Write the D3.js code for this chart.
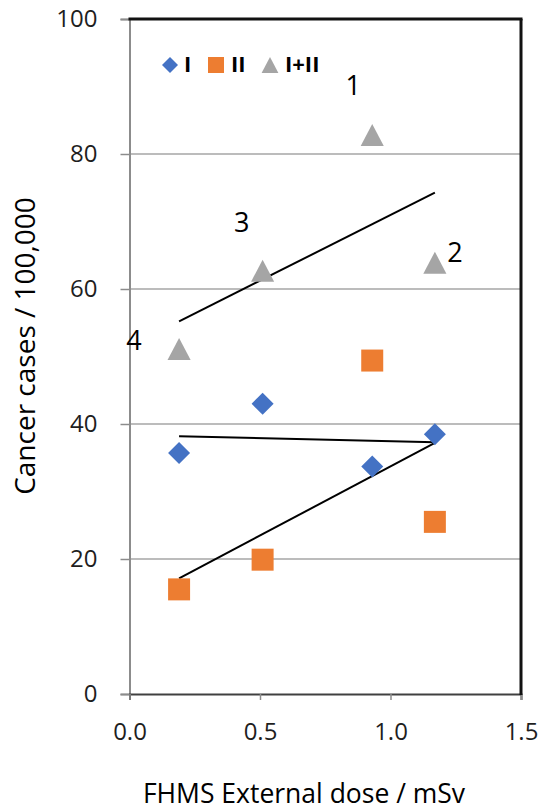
<!DOCTYPE html>
<html>
<head>
<meta charset="utf-8">
<script src="https://cdn.jsdelivr.net/npm/d3@7"></script>
<style>
  html, body { margin: 0; padding: 0; background: #fff; }
  svg { display: block; }
  text { font-family: "Open Sans", "DejaVu Sans", sans-serif; }
</style>
</head>
<body>
<svg id="chart" width="539" height="810"></svg>
<script>
// ---- data ----
const seriesNames = ["I", "II", "I+II"];
const doses = [0.19, 0.51, 0.93, 1.17];
const seriesI = [35.7, 43.0, 33.7, 38.5];
const seriesII = [15.5, 19.9, 49.4, 25.5];
const seriesSum = [51.1, 62.7, 82.8, 63.9];
const pointLabels = ["4", "3", "1", "2"];   // labels of the I+II points, in dose order
const xTicks = [0.0, 0.5, 1.0, 1.5];
const yTicks = [0, 20, 40, 60, 80, 100];
const xTitle = "FHMS External dose / mSv";
const yTitle = "Cancer cases / 100,000";

// ---- layout ----
const svg = d3.select("#chart");
const pLeft = 129.5, pRight = 521, pTop = 19, pBottom = 694;
const x = d3.scaleLinear().domain([0, 1.5]).range([pLeft, pRight]);
const y = d3.scaleLinear().domain([0, 100]).range([pBottom, pTop]);

const colors = { "I": "#4472C4", "II": "#ED7D31", "I+II": "#A5A5A5" };

// gridlines
svg.append("g").selectAll("line").data(yTicks.filter(d => d > 0 && d < 100)).join("line")
  .attr("x1", pLeft).attr("x2", pRight)
  .attr("y1", d => y(d)).attr("y2", d => y(d))
  .attr("stroke", "#a6a6a6").attr("stroke-width", 1.5);

// y axis
const yAxis = svg.append("g").attr("transform", `translate(${pLeft},0)`)
  .call(d3.axisLeft(y).tickValues(yTicks).tickFormat(d3.format("d")).tickSize(9).tickPadding(23));
yAxis.select(".domain").attr("stroke", "#8c8c8c").attr("stroke-width", 2);
yAxis.selectAll(".tick line").attr("stroke", "#8c8c8c").attr("stroke-width", 1.5);
yAxis.selectAll(".tick text").attr("font-size", 24).attr("fill", "#1e1e1e")
  .attr("font-family", "'Open Sans', sans-serif");

// x axis
const xAxis = svg.append("g").attr("transform", `translate(0,${pBottom})`)
  .call(d3.axisBottom(x).tickValues(xTicks).tickFormat(d3.format(".1f")).tickSize(6).tickPadding(23));
xAxis.select(".domain").attr("stroke", "#404040").attr("stroke-width", 2);
xAxis.selectAll(".tick line").attr("stroke", "#8c8c8c").attr("stroke-width", 1.5);
xAxis.selectAll(".tick text").attr("font-size", 24).attr("fill", "#1e1e1e")
  .attr("font-family", "'Open Sans', sans-serif");

// top & right border of plot area
svg.append("line").attr("x1", pLeft - 1).attr("x2", pRight + 1.5).attr("y1", y(100)).attr("y2", y(100))
  .attr("stroke", "#111").attr("stroke-width", 3);
svg.append("line").attr("x1", pRight).attr("x2", pRight).attr("y1", y(100)).attr("y2", y(0) + 1)
  .attr("stroke", "#111").attr("stroke-width", 3);

// marker shapes
function markerPath(name, s) {
  const h = s / 2;
  if (name === "I") return `M0,${-h}L${h},0L0,${h}L${-h},0Z`;
  if (name === "II") return `M${-h},${-h}H${h}V${h}H${-h}Z`;
  return `M0,${-h}L${h * 1.05},${h}L${-h * 1.05},${h}Z`;
}

const seriesData = [
  { name: "I", values: seriesI },
  { name: "II", values: seriesII },
  { name: "I+II", values: seriesSum }
];

// trend lines (least squares over each series)
function trend(xs, ys) {
  const mx = d3.mean(xs), my = d3.mean(ys);
  const b = d3.sum(xs, (v, i) => (v - mx) * (ys[i] - my)) / d3.sum(xs, v => (v - mx) * (v - mx));
  const a = my - b * mx;
  const x0 = d3.min(xs), x1 = d3.max(xs);
  return [[x0, a + b * x0], [x1, a + b * x1]];
}
const line = d3.line().x(d => x(d[0])).y(d => y(d[1]));
svg.append("g").selectAll("path").data(seriesData).join("path")
  .attr("d", s => line(trend(doses, s.values)))
  .attr("fill", "none").attr("stroke", "#000").attr("stroke-width", 2);

// markers
seriesData.forEach(s => {
  svg.append("g").selectAll("path").data(s.values).join("path")
    .attr("transform", (v, i) => `translate(${x(doses[i])},${y(v)})`)
    .attr("d", markerPath(s.name, 22))
    .attr("fill", colors[s.name]);
});

// point labels for I+II
const labelOffsets = [[-45, -9], [-21, -48], [-19, -50], [20, -10]];
svg.append("g").selectAll("text").data(seriesSum).join("text")
  .attr("x", (v, i) => x(doses[i]) + labelOffsets[i][0])
  .attr("y", (v, i) => y(v) + labelOffsets[i][1])
  .attr("dy", "0.36em")
  .attr("text-anchor", "middle")
  .attr("font-size", 27).attr("fill", "#000")
  .text((v, i) => pointLabels[i]);

// legend
const legendItems = [
  { name: "I", mx: 170, tx: 184 },
  { name: "II", mx: 216, tx: 231 },
  { name: "I+II", mx: 270, tx: 285 }
];
const lg = svg.append("g");
legendItems.forEach(it => {
  lg.append("path").attr("transform", `translate(${it.mx},65)`)
    .attr("d", markerPath(it.name, 16)).attr("fill", colors[it.name]);
  lg.append("text").attr("x", it.tx).attr("y", 72)
    .attr("font-size", 22).attr("font-weight", "bold").attr("fill", "#000")
    .text(seriesNames[seriesNames.indexOf(it.name)]);
});

// axis titles
svg.append("text").attr("x", 304).attr("y", 803).attr("text-anchor", "middle")
  .attr("font-size", 26.5).attr("fill", "#000").text(xTitle);
svg.append("text").attr("transform", "translate(35,346) rotate(-90)").attr("text-anchor", "middle")
  .attr("font-size", 28).attr("fill", "#000").text(yTitle);
</script>
</body>
</html>
